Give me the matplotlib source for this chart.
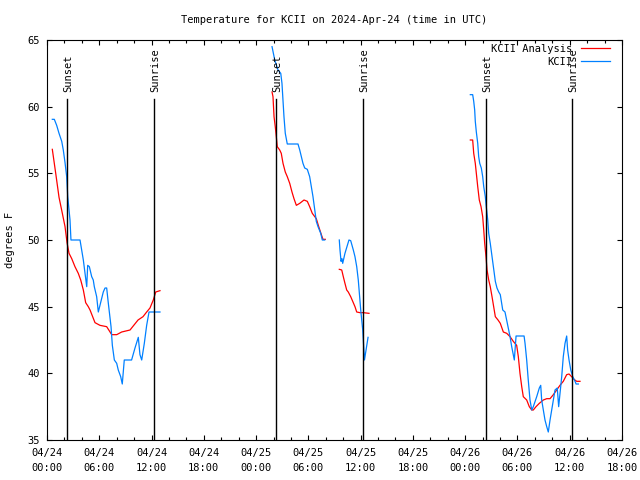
"""Temperature at KCII, analysis vs observed, 2024-04-24..26 (UTC)"""
import numpy as np
import matplotlib
matplotlib.use("Agg")
import matplotlib.pyplot as plt

nan = np.nan

# hours since 04/24 00:00 UTC ; nan = gap in the data
analysis_hours = [
    0.61, 1.0, 1.38, 1.76, 2.07, 2.30, 2.53, 2.84, 3.21, 3.59, 3.87, 4.17, 4.44, 4.74,
    4.94, 5.51, 6.08, 6.85, 7.43, 8.0, 8.57, 9.53, 10.45, 11.02, 11.44, 11.82, 12.2,
    12.48, 12.97, nan,
    25.83, 25.94, 26.06, 26.2, 26.32, 26.43, 26.71, 26.89, 27.09, 27.35, 27.58, 27.86,
    28.12, 28.35, 28.62, 29.01, 29.5, 29.88, 30.15, 30.45, 30.91, 31.19, 31.49, 31.68,
    31.94, nan,
    33.55, 33.83, 34.01, 34.2, 34.4, 34.58, 34.86, 35.09, 35.35, 35.55, 35.93, 36.31,
    36.96, nan,
    48.59, 48.86, 48.98, 49.16, 49.28, 49.44, 49.62, 49.82, 50.01, 50.13, 50.24, 50.39,
    50.51, 50.7, 50.88, 51.08, 51.27, 51.46, 51.77, 52.03, 52.38, 52.77, 53.15, 53.52,
    53.91, 54.1, 54.29, 54.49, 54.67, 55.06, 55.36, 55.64, 55.82, 56.13, 56.51, 56.97,
    57.36, 57.74, 58.12, 58.5, 58.88, 59.26, 59.65, 59.92, 60.22, 60.49, 60.8, 61.18,
]
analysis_temp = [
    56.8, 55.0, 53.2, 52.0, 51.0, 49.8, 49.0, 48.6, 48.0, 47.5, 47.0, 46.25, 45.3, 45.0,
    44.75, 43.8, 43.6, 43.5, 42.9, 42.9, 43.1, 43.25, 44.0, 44.25, 44.6, 44.9, 45.5,
    46.1, 46.2, nan,
    61.1, 60.75, 59.25, 58.5, 57.75, 57.0, 56.75, 56.5, 55.75, 55.1, 54.75, 54.25,
    53.6, 53.1, 52.6, 52.75, 53.0, 52.9, 52.5, 52.0, 51.6, 51.0, 50.4, 50.05,
    50.05, nan,
    47.8, 47.75, 47.25, 46.75, 46.25, 46.1, 45.75, 45.4, 45.0, 44.6, 44.55, 44.55,
    44.5, nan,
    57.5, 57.5, 56.5, 55.75, 55.0, 54.0, 53.0, 52.5, 51.75, 50.75, 49.75, 48.75,
    47.75, 47.0, 46.5, 45.75, 45.0, 44.25, 44.0, 43.75, 43.1, 43.0, 42.75, 42.4,
    42.1, 41.25, 40.0, 39.0, 38.25, 38.0, 37.5, 37.25, 37.25, 37.5, 37.75, 38.0,
    38.1, 38.1, 38.4, 38.75, 39.1, 39.4, 39.9, 39.95, 39.75, 39.55, 39.4, 39.4,
]

obs_hours = [
    0.61, 0.84, 1.11, 1.38, 1.69, 1.87, 2.07, 2.26, 2.38, 2.53, 2.64, 2.75, 3.79, 3.98,
    4.17, 4.36, 4.56, 4.67, 4.86, 5.13, 5.31, 5.43, 5.7, 5.89, 6.08, 6.46, 6.66, 6.85,
    7.04, 7.35, 7.5, 7.73, 8.0, 8.18, 8.46, 8.64, 8.87, 9.71, 10.1, 10.48, 10.67, 10.87,
    11.17, 11.44, 11.71, 12.97, nan,
    25.83, 26.14, 26.52, 26.83, 26.97, 27.09, 27.2, 27.35, 27.58, 28.81, 29.01, 29.19,
    29.38, 29.58, 29.88, 30.15, 30.34, 30.53, 30.73, 30.91, 31.11, 31.42, 31.6, 31.87, nan,
    33.55, 33.63, 33.75, 33.86, 33.94, 34.2, 34.47, 34.66, 34.86, 35.16, 35.35, 35.55,
    35.73, 35.85, 36.01, 36.12, 36.24, 36.44, 36.62, 36.85, nan,
    48.59, 48.86, 48.98, 49.09, 49.16, 49.28, 49.44, 49.55, 49.67, 49.85, 50.01, 50.13,
    50.31, 50.42, 50.59, 50.7, 50.88, 51.08, 51.27, 51.46, 51.65, 51.85, 52.03, 52.31,
    52.57, 52.76, 52.95, 53.15, 53.34, 53.52, 53.64, 53.72, 53.84, 54.76, 54.87, 55.06,
    55.24, 55.44, 55.64, 55.82, 56.21, 56.51, 56.67, 56.78, 56.97, 57.16, 57.36, 57.54,
    57.74, 57.93, 58.12, 58.31, 58.57, 58.73, 58.88, 59.08, 59.26, 59.46, 59.65, 59.76,
    59.92, 60.12, 60.35, 60.61, 60.73, 60.99,
]
obs_temp = [
    59.05, 59.05, 58.6, 58.0, 57.4, 56.75, 55.8, 54.75, 53.25, 52.25, 51.5, 50.0, 50.0, 49.25,
    48.5, 47.5, 46.5, 48.1, 48.0, 47.25, 47.0, 46.5, 45.75, 44.6, 45.1, 46.1, 46.4, 46.4,
    45.25, 43.5, 42.1, 41.0, 40.75, 40.25, 39.75, 39.2, 41.0, 41.0, 41.9, 42.7, 41.4, 41.0,
    42.25, 43.6, 44.6, 44.6, nan,
    64.5, 63.5, 62.75, 62.5, 61.75, 60.5, 59.25, 58.0, 57.2, 57.2, 56.75, 56.25,
    55.75, 55.4, 55.3, 54.75, 54.0, 53.25, 52.25, 51.4, 51.0, 50.5, 50.0, 50.0, nan,
    50.0, 49.25, 48.4, 48.6, 48.25, 49.0, 49.6, 50.0, 49.95, 49.25, 48.75, 48.0,
    47.0, 46.0, 44.75, 44.0, 43.25, 41.0, 41.75, 42.7, nan,
    60.9, 60.9, 60.4, 59.75, 58.9, 58.1, 57.25, 56.25, 55.75, 55.4, 54.75, 54.0,
    53.25, 52.5, 51.5, 50.5, 49.75, 48.75, 47.75, 46.9, 46.4, 46.1, 45.9, 44.75,
    44.6, 44.0, 43.4, 42.75, 42.0, 41.4, 41.0, 41.75, 42.8, 42.8, 42.25, 41.0,
    39.5, 38.0, 37.25, 37.5, 38.25, 38.9, 39.1, 38.0, 37.25, 36.5, 36.0, 35.6,
    36.5, 37.25, 38.0, 38.75, 38.9, 37.5, 38.5, 39.75, 41.25, 42.25, 42.8, 41.75,
    41.0, 40.25, 39.75, 39.4, 39.2, 39.2,
]

sunset_hours = [2.33, 26.33, 50.38]
sunrise_hours = [12.32, 36.31, 60.3]
marker_top = 60.6
label_base = 61.1

tick_hours = [0, 6, 12, 18, 24, 30, 36, 42, 48, 54, 60, 66]
tick_labels = [
    "04/24\n00:00", "04/24\n06:00", "04/24\n12:00", "04/24\n18:00",
    "04/25\n00:00", "04/25\n06:00", "04/25\n12:00", "04/25\n18:00",
    "04/26\n00:00", "04/26\n06:00", "04/26\n12:00", "04/26\n18:00",
]

plt.rcParams['font.family'] = ['DejaVu Sans Mono']
plt.rcParams['font.size'] = 7.5

fig = plt.figure(figsize=(6.4, 4.8), dpi=100)
ax = fig.add_axes([47 / 640, 40 / 480, 575 / 640, 400 / 480])

ax.plot(analysis_hours, analysis_temp, color="#ff0000", lw=0.9, label="KCII Analysis")
ax.plot(obs_hours, obs_temp, color="#0080ff", lw=0.9, label="KCII")

for h in sunset_hours:
    ax.plot([h, h], [35, marker_top], color="black", lw=1.0)
    ax.text(h + 0.1, label_base, "Sunset", rotation=90, ha="center", va="bottom")
for h in sunrise_hours:
    ax.plot([h, h], [35, marker_top], color="black", lw=1.0)
    ax.text(h + 0.1, label_base, "Sunrise", rotation=90, ha="center", va="bottom")

ax.set_xlim(0, 66)
ax.set_ylim(35, 65)
ax.set_xticks(tick_hours)
ax.set_xticklabels(tick_labels, linespacing=1.6)
ax.set_xticks(np.arange(0, 67, 2), minor=True)
ax.set_yticks(range(35, 66, 5))
ax.tick_params(which="both", direction="in", top=True, right=True, width=0.8)
ax.tick_params(which="major", length=3.5)
ax.tick_params(which="minor", length=2)
ax.tick_params(axis="x", pad=6)
ax.tick_params(axis="y", pad=5)
for s in ax.spines.values():
    s.set_linewidth(0.8)

ax.legend(loc="upper right", bbox_to_anchor=(0.979, 0.99), frameon=False,
          markerfirst=False, borderaxespad=0, borderpad=0, handlelength=2.8,
          handletextpad=0.8, labelspacing=0.3)

fig.text(334.5 / 640, 1 - 20 / 480, "Temperature for KCII on 2024-Apr-24 (time in UTC)",
         ha="center", va="center")
fig.text(10 / 640, 0.5, "degrees F", rotation=90, ha="center", va="center")

fig.savefig("out.png", dpi=100)
